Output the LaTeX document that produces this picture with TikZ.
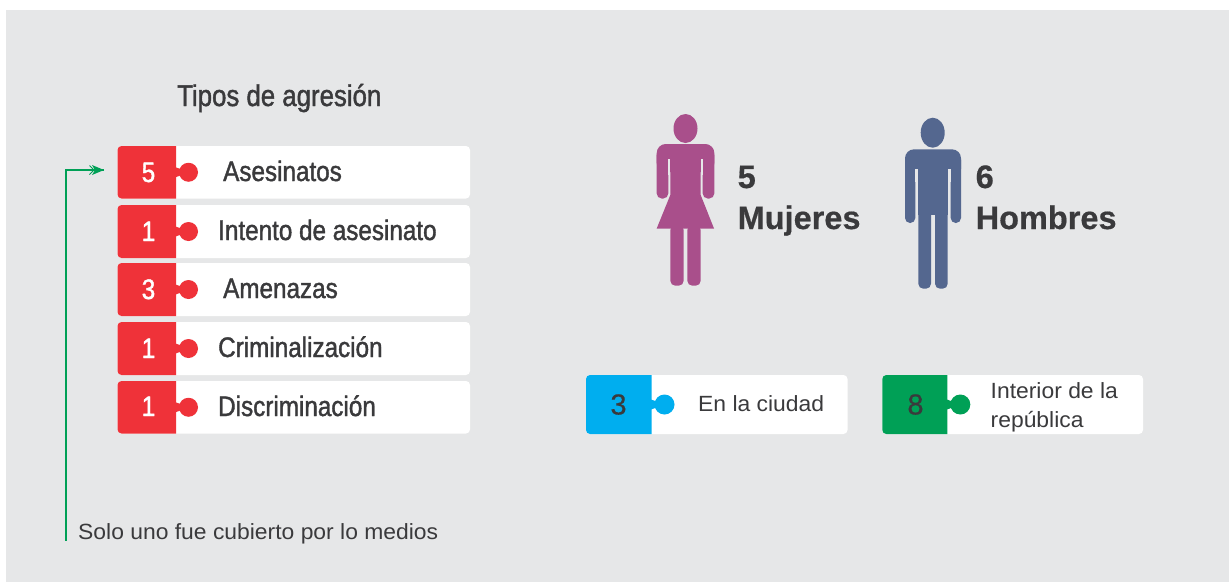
\documentclass[tikz,border=0pt]{standalone}
\usepackage{fontspec}
\setmainfont{Liberation Sans}
\newfontfamily\narrowfont[FakeStretch=0.86,FakeBold=1.4]{Liberation Sans}
\newfontfamily\widefont[FakeStretch=1.04]{Liberation Sans}
\newfontfamily\midfont[FakeBold=0.4]{Liberation Sans}
\newfontfamily\heavyfont[FakeBold=0.5]{Liberation Sans Bold}
\definecolor{bgc}{HTML}{E6E7E8}
\definecolor{redc}{HTML}{EF3239}
\definecolor{bluec}{HTML}{00AEEF}
\definecolor{greenc}{HTML}{00A056}
\definecolor{inkc}{HTML}{3A3A3C}
\definecolor{womanc}{HTML}{A94F8B}
\definecolor{manc}{HTML}{54678F}
\tikzset{
  x=1pt,y=-1pt,
  cardbox/.style={fill=white,draw=none,rounded corners=4pt,inner sep=0pt,outer sep=0pt,anchor=north west},
  headline/.style={text=inkc,font=\narrowfont\fontsize{30}{32}\selectfont,inner sep=0pt,anchor=base west},
  rowlabel/.style={text=inkc,font=\narrowfont\fontsize{28.2}{30}\selectfont,inner sep=0pt,anchor=base west},
  rownum/.style={text=white,font=\narrowfont\fontsize{28.2}{30}\selectfont,inner sep=0pt,anchor=base},
  bignum/.style={text=inkc,font=\midfont\fontsize{29}{32}\selectfont,inner sep=0pt,anchor=base},
  smalllabel/.style={text=inkc,font=\widefont\fontsize{22}{28.5}\selectfont,inner sep=0pt,anchor=base west},
  peoplelabel/.style={text=inkc,font=\heavyfont\fontsize{32.5}{41}\selectfont,inner sep=0pt,anchor=base west,align=left},
  pointer/.style={draw=greenc,line width=1.4pt},
}
% #1 name, #2 left x, #3 split x, #4 right x, #5 top y, #6 bottom y, #7 colour, #8 knob radius
\newcommand\puzzlecard[8]{%
  \pgfmathsetmacro\cw{#4-#2}\pgfmathsetmacro\ch{#6-#5}%
  \pgfmathsetmacro\cy{(#5+#6)/2}%
  \node[cardbox,minimum width=\cw pt,minimum height=\ch pt] (#1) at (#2,#5) {};
  \fill[#7] (#3,#5) -- (#2+4,#5) arc[start angle=90,end angle=180,radius=4,y radius=-4]
     -- (#2,#6-4) arc[start angle=180,end angle=270,radius=4,y radius=-4] -- (#3,#6) -- cycle;
  \fill[#7] (#3+#8+3,\cy) circle[radius=#8];
  \fill[#7] (#3-0.5,\cy-5) .. controls (#3+2,\cy-5) and (#3+3,\cy-3) .. (#3+5,\cy-3)
     -- (#3+5,\cy+3) .. controls (#3+3,\cy+3) and (#3+2,\cy+5) .. (#3-0.5,\cy+5) -- cycle;
}
\begin{document}
\begin{tikzpicture}
\useasboundingbox (0,0) rectangle (1229,582);
\fill[bgc] (6,10) rectangle (1229,582);

\node[headline] (title) at (177,106) {Tipos de agresión};

\puzzlecard{row1}{117.5}{176}{470}{146}{198.5}{redc}{9.5}
\puzzlecard{row2}{117.5}{176}{470}{205}{258}{redc}{9.5}
\puzzlecard{row3}{117.5}{176}{470}{263}{316}{redc}{9.5}
\puzzlecard{row4}{117.5}{176}{470}{322}{375}{redc}{9.5}
\puzzlecard{row5}{117.5}{176}{470}{381}{433.5}{redc}{9.5}

\node[rownum] (n1) at (148.5,182) {5};
\node[rownum] (n2) at (148.5,241) {1};
\node[rownum] (n3) at (148.5,299) {3};
\node[rownum] (n4) at (148.5,358) {1};
\node[rownum] (n5) at (148.5,416) {1};

\node[rowlabel] (t1) at (223,181) {Asesinatos};
\node[rowlabel] (t2) at (218,240) {Intento de asesinato};
\node[rowlabel] (t3) at (223,298) {Amenazas};
\node[rowlabel] (t4) at (218,357) {Criminalización};
\node[rowlabel] (t5) at (218,416) {Discriminación};

% pointer
\coordinate (pstart) at (66,540.5);
\coordinate (pend) at (104,170);
\draw[pointer] (pstart) -- (66,170) -- (pend);
\fill[greenc] (104,170) -- (92,165) -- (95,170) -- (92,175) -- cycle;
\draw[greenc,line width=1pt] (89.5,165.5) -- (94,170) -- (89.5,174.5);
\node[text=inkc,font=\widefont\fontsize{22}{24}\selectfont,inner sep=0pt,anchor=base west] (note) at (78,539) {Solo uno fue cubierto por lo medios};

% woman
\fill[womanc] (685.5,128.5) ellipse[x radius=12,y radius=14.5];
\fill[womanc,rounded corners=9pt] (656.7,172) -- (656.7,144) -- (714.3,144) -- (714.3,172) -- cycle;
\fill[womanc,rounded corners=5pt] (656.7,150) -- (668.3,150) -- (668.3,198.5) -- (656.7,198.5) -- cycle;
\fill[womanc,rounded corners=5pt] (702.7,150) -- (714.3,150) -- (714.3,198.5) -- (702.7,198.5) -- cycle;
\fill[bgc] (668.3,159) rectangle (670.3,175);
\fill[bgc] (700.7,159) rectangle (702.7,175);
\fill[womanc] (670.3,155) -- (700.7,155) -- (700.7,195) -- (714,228.5) -- (656.7,228.5) -- (670.3,195) -- cycle;
\fill[womanc,rounded corners=5pt] (670.3,225) -- (683.7,225) -- (683.7,285.7) -- (670.3,285.7) -- cycle;
\fill[womanc,rounded corners=5pt] (687.3,225) -- (700.7,225) -- (700.7,285.7) -- (687.3,285.7) -- cycle;

% man
\fill[manc] (932.7,132.7) ellipse[x radius=12,y radius=15];
\fill[manc,rounded corners=9pt] (905,178) -- (905,149.3) -- (961,149.3) -- (961,178) -- cycle;
\fill[manc,rounded corners=5pt] (905,155) -- (915.3,155) -- (915.3,223) -- (905,223) -- cycle;
\fill[manc,rounded corners=5pt] (950.7,155) -- (961,155) -- (961,223) -- (950.7,223) -- cycle;
\fill[bgc] (915.3,169) rectangle (917.7,182);
\fill[bgc] (948.3,169) rectangle (950.7,182);
\fill[manc] (917.7,160) rectangle (948.3,215);
\fill[manc,rounded corners=5pt] (918.3,205) -- (931,205) -- (931,288.7) -- (918.3,288.7) -- cycle;
\fill[manc,rounded corners=5pt] (935,205) -- (947.7,205) -- (947.7,288.7) -- (935,288.7) -- cycle;

\node[peoplelabel] (mujeres) at (737.5,229) {5\\Mujeres};
\node[peoplelabel] (hombres) at (975.5,229) {6\\Hombres};

% lower cards
\puzzlecard{city}{586}{651.5}{847.5}{375}{434}{bluec}{10}
\puzzlecard{inner}{882.3}{947.3}{1143}{375}{434}{greenc}{10}
\node[bignum] (c1) at (618.5,414.5) {3};
\node[bignum] (c2) at (915.5,414.5) {8};
\node[smalllabel] (l1) at (698,411) {En la ciudad};
\node[smalllabel] (l2) at (990.5,398.5) {Interior de la};
\node[smalllabel] (l3) at (990.5,427) {república};
\end{tikzpicture}
\end{document}
